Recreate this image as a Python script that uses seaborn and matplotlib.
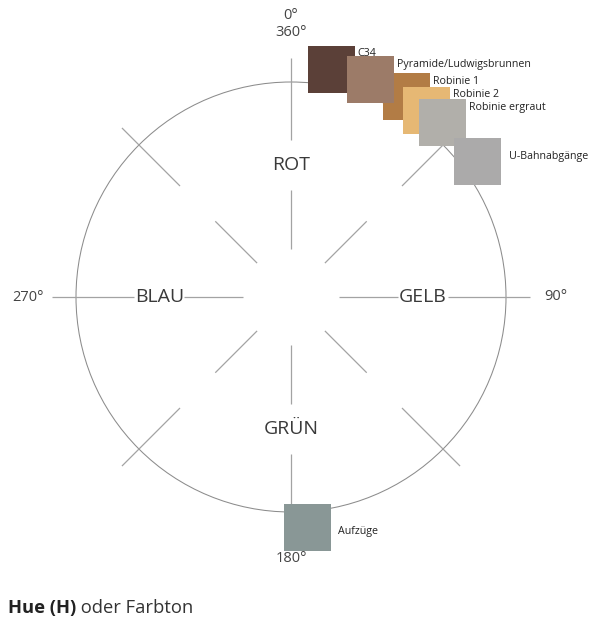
import numpy as np
import pandas as pd
import matplotlib
matplotlib.use("Agg")
import matplotlib.pyplot as plt
import seaborn as sns
from matplotlib.patches import Circle

# ---------------- data ----------------
swatch_names = ["C34", "Robinie 1", "Pyramide/Ludwigsbrunnen", "Robinie 2",
                "Robinie ergraut", "U-Bahnabgänge", "Aufzüge"]
swatch_hues = [10, 30, 20, 36, 41, 54, 176]          # hue angle in degrees
swatch_colors = ["#5b4038", "#b27c45", "#9c7b68", "#e6b874",
                 "#b1afaa", "#abaaaa", "#899796"]

sector_names = ["ROT", "GELB", "GRÜN", "BLAU"]
sector_angles = [0, 90, 180, 270]

degree_labels = ["0°", "360°", "90°", "180°", "270°"]
degree_angles = [0, 0, 90, 180, 270]

spoke_angles = [0, 45, 90, 135, 180, 225, 270, 315]

title_bold = "Hue (H)"
title_rest = " oder Farbton"

# ---------------- style ----------------
sns.set_theme(style="white")
plt.rcParams["font.family"] = ["Open Sans", "DejaVu Sans"]

W, H, DPI = 601, 624, 100
PX = 215.0            # pixels per unit radius
CX, CY = 291.0, 297.0 # centre of the wheel in pixels

fig = plt.figure(figsize=(W / DPI, H / DPI), dpi=DPI)
fig.patch.set_facecolor("white")
ax = fig.add_axes([0, 0, 1, 1])


def polar(r, deg):
    t = np.deg2rad(deg)
    return r * np.sin(t), r * np.cos(t)


# circle
ax.add_patch(Circle((0, 0), 1.0, fill=False, edgecolor="#8c8c8c", lw=0.75, zorder=1))

# spokes
spoke_col = "#a3a3a3"
for a in spoke_angles:
    for r0, r1 in [(0.223, 0.498), (0.73, 1.112)]:
        x0, y0 = polar(r0, a)
        x1, y1 = polar(r1, a)
        ax.plot([x0, x1], [y0, y1], color=spoke_col, lw=0.9, zorder=1,
                solid_capstyle="butt")

# sector names
for name, a in zip(sector_names, sector_angles):
    x, y = polar(0.612, a)
    ax.text(x, y, name, ha="center", va="center", fontsize=14,
            color="#3a3a3a", zorder=3)

# degree labels
deg_r = {0: 1.23, 90: 1.23, 180: 1.218, 270: 1.225}
for lab, a in zip(degree_labels, degree_angles):
    x, y = polar(deg_r[a], a)
    if lab == "0°":
        y += 0.08
    ax.text(x, y, lab, ha="center", va="center", fontsize=10.5, color="#444444")

# swatches
R_SW = 1.075
xs, ys = zip(*[polar(R_SW, h) for h in swatch_hues])
df = pd.DataFrame({"x": xs, "y": ys, "name": swatch_names})
side_px = 47.0
side_pt = side_px * 72.0 / DPI
sns.scatterplot(data=df, x="x", y="y", hue="name",
                palette=dict(zip(swatch_names, swatch_colors)),
                marker="s", s=side_pt ** 2, linewidth=0, legend=False,
                ax=ax, zorder=4)
ax.set_xlim(-CX / PX, (W - CX) / PX)
ax.set_ylim(-(H - CY) / PX, CY / PX)
ax.axis("off")

half = side_px / 2 / PX
gap = 3 / PX
for name, x, y in zip(swatch_names, xs, ys):
    if name in ("U-Bahnabgänge", "Aufzüge"):
        ax.text(x + half + gap + 0.02, y + (0.02 if name == "U-Bahnabgänge" else -0.02),
                name, ha="left", va="center", fontsize=7.7, color="#222222", zorder=5)
    else:
        ax.text(x + half + gap, y + half - 0.012, name, ha="left", va="top",
                fontsize=7.7, color="#222222", zorder=5)

# title
t1 = fig.text(8 / W, 1 - 608 / H, title_bold, fontsize=13.2, fontweight="bold",
              color="#222222", ha="left", va="center")
renderer = fig.canvas.get_renderer()
bb = t1.get_window_extent(renderer=renderer)
fig.text(bb.x1 / W, 1 - 608 / H, title_rest, fontsize=13.2, color="#333333",
         ha="left", va="center")

fig.savefig("out.png", dpi=DPI, facecolor="white")
